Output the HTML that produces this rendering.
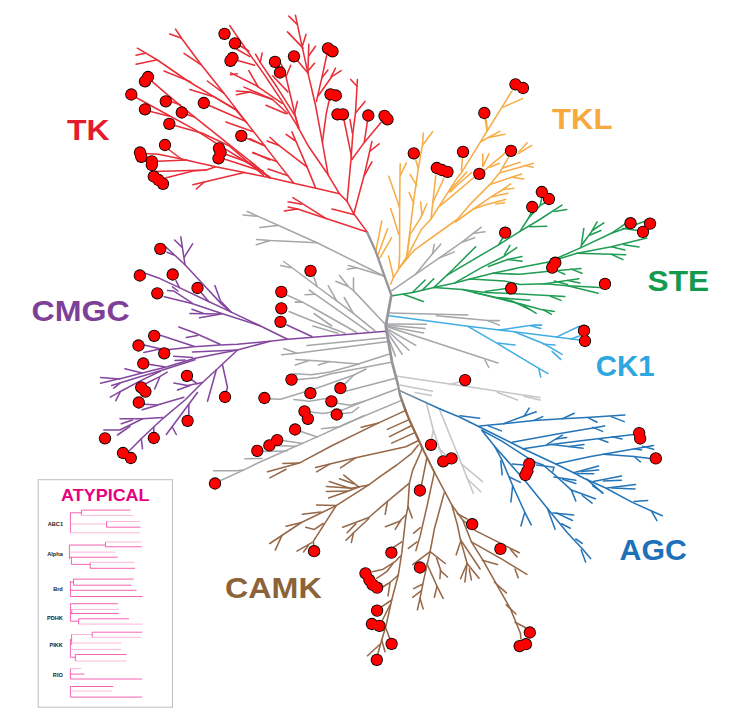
<!DOCTYPE html>
<html><head><meta charset="utf-8"><title>Kinome tree</title>
<style>html,body{margin:0;padding:0;background:#fff;}svg{display:block;}text{font-family:"Liberation Sans",sans-serif;font-weight:bold;}</style>
</head><body>
<svg width="735" height="720" viewBox="0 0 735 720">
<rect width="735" height="720" fill="#fff"/>
<g fill="none" stroke="#C4C6C8" stroke-width="1.55" stroke-linecap="round" stroke-linejoin="round">
<polyline points="397.5,376.3 465,386.3 540,397.5"/>
<polyline points="450,384.5 458.8,382"/>
<polyline points="523.8,396.3 540,400"/>
<polyline points="497.5,392.5 517.5,400"/>
<polyline points="400,385 432.5,391.3"/>
<polyline points="415,392.5 431.3,395.5"/>
<polyline points="426.7,404.2 433.3,430 441.7,455"/>
<polyline points="433.3,430 431.7,438.3"/>
<polyline points="438.3,447.5 446.7,455.8"/>
<polyline points="440,410.8 460,460 473.3,493.3"/>
<polyline points="480.8,491.7 466.7,478.3"/>
<polyline points="482.5,481.7 461.7,464.2"/>
</g>
<g fill="none" stroke="#A5A7AA" stroke-width="1.55" stroke-linecap="round" stroke-linejoin="round">
<polyline points="247.3,211.5 277.5,225 317.1,242.7 383.8,276"/>
<polyline points="243.1,215 256.7,216.3"/>
<polyline points="259.8,227.5 277.5,225.4"/>
<polyline points="256.7,239.6 270.2,240.6 317.1,242.7"/>
<polyline points="256.3,244.8 270.2,240.6"/>
<polyline points="348.3,265.6 356.7,267.7 383.8,276"/>
<polyline points="347.3,269.2 356.7,267.7"/>
<polyline points="283.8,261.5 317.1,286.5 336.7,300.8 353.3,313.3 375,330.8"/>
<polyline points="280.6,265.6 291,267.7"/>
<polyline points="313.9,277 317.1,286.5"/>
<polyline points="335.8,281.3 348.3,286.5 353.5,290.6 385,324"/>
<polyline points="339.6,275.4 348.3,286.5"/>
<polyline points="353.5,278.1 353.5,290.6"/>
<polyline points="328.3,285.8 336.7,300.8"/>
<polyline points="309.2,290 315,294.2 340,311.7 368.3,331.7"/>
<polyline points="305,294.7 315,294.2"/>
<polyline points="344.2,297.5 353.3,313.3"/>
<polyline points="286.3,294.8 302.5,302.1 320,311.7 356.7,332.5"/>
<polyline points="295.2,302.1 302.5,302.1"/>
<polyline points="289,311.5 310,320 345,333.3"/>
<polyline points="314,313.5 331.7,326"/>
<polyline points="312.9,326 327.5,330.2 337.9,333.3"/>
<polyline points="391.5,290.8 415.4,274.4 439.4,257.9 461.9,242.2 481.3,227.2"/>
<polyline points="415.4,274.4 432.7,253.4 434.2,244.4"/>
<polyline points="432.7,253.4 440.9,244.1"/>
<polyline points="454.4,251.9 439.4,257.9"/>
<polyline points="474.6,237.7 461.9,242.2"/>
<polyline points="485.1,231.7 473.8,233.2"/>
<polyline points="389.3,312.9 467.9,314.9"/>
<polyline points="436.4,315.7 487.9,320.6 499.3,325.1"/>
<polyline points="487.9,320.6 499.3,320.6"/>
<polyline points="385.7,324 426.4,324.3"/>
<polyline points="385.7,325 425,328.6"/>
<polyline points="385.7,326 423.6,332.9"/>
<polyline points="387.9,327.1 497.9,362.9"/>
<polyline points="485,360 488.8,367.5"/>
<polyline points="385.7,328 415.8,345.4"/>
<polyline points="385.7,329 409,350.3"/>
<polyline points="385.7,330 402.2,354.2"/>
<polyline points="385.7,331 395.4,356.1"/>
<polyline points="307.1,345.6 385.6,337.8"/>
<polyline points="281.6,354.7 296.9,353.3 386.7,341.7"/>
<polyline points="283.7,348.6 296.9,353.3"/>
<polyline points="295.9,359.4 327.6,361.4 358.2,364.1 388.8,354.3"/>
<polyline points="295.3,364.9 309.2,360.4"/>
<polyline points="318.4,364.9 329.6,361.4"/>
<polyline points="293,380 317.3,377.8 330,374 391.1,362.2"/>
<polyline points="293.9,373.7 311.2,374.7 330,372 358.9,363.9"/>
<polyline points="266,398.8 280.6,399.2 317.3,388 353.9,375 366,369"/>
<polyline points="345,383.9 353.9,375"/>
<polyline points="346.7,391.1 395.6,378.3"/>
<polyline points="293.9,399.6 309.2,401.2 327.6,398.2"/>
<polyline points="333,402.5 350,405.3 364.3,401.2 396.9,389"/>
<polyline points="306,411.6 323.5,413.5 343.9,409.4 364.3,401.2"/>
<polyline points="338,414 352,412.5 358.5,407.4"/>
<polyline points="321.4,428.8 339.8,426.7 364.3,415.5"/>
<polyline points="215,483 243.5,470.1 260,462 319.4,435.9 348,422.7 401,400.6"/>
<polyline points="213.6,470.7 236.7,470.7 243.5,470.1"/>
<polyline points="244.9,458.7 262,458.5"/>
<polyline points="258,451.4 287,451"/>
<polyline points="271,445.5 296,446.2"/>
<polyline points="279,440 303,443.5"/>
<polyline points="296.5,430 317.3,436.9"/>
</g>
<g fill="none" stroke="#84479E" stroke-width="1.55" stroke-linecap="round" stroke-linejoin="round">
<polyline points="385.8,331.3 303.8,338 287.5,339.3 270,341.3 237.5,344.3 220,345 193.8,346.8 170,349.5 166,352"/>
<polyline points="287.5,339.3 260,325.8 230.8,311.9 221.1,303.6 201.7,282.8 185,264.7 180.8,236.9"/>
<polyline points="174.6,240 182.2,247.4"/>
<polyline points="192.6,243.9 184.3,257.1"/>
<polyline points="165.6,246.7 185,264.7"/>
<polyline points="166.9,252.2 173.9,255"/>
<polyline points="214.9,285.6 220.4,300.8 230.8,311.9"/>
<polyline points="201.7,293.2 208.6,301.5"/>
<polyline points="230.8,311.9 208.6,301.5 179.4,287.6 160,278.6 143,272.5"/>
<polyline points="176,280.7 179.4,287.6"/>
<polyline points="167.6,290.4 173.9,291.1 191.9,302.9"/>
<polyline points="172.5,286.9 178,291"/>
<polyline points="164.2,296.7 191.9,303.6 221.1,313.3 260,325.8"/>
<polyline points="189.9,313.6 221.1,314"/>
<polyline points="191.9,309.2 203.1,313.3"/>
<polyline points="199.6,317.8 221.1,314"/>
<polyline points="286.9,325 311.9,336.5"/>
<polyline points="178.8,327 193.8,332.5 220,344.3"/>
<polyline points="186.3,337.5 197.5,335.5"/>
<polyline points="158,334.5 193.8,346.3"/>
<polyline points="142,344.5 160,348.8 170,349.5"/>
<polyline points="143.8,352.5 160,349"/>
<polyline points="270,341.3 237.5,350 195,358.3 167.2,366.7 142.2,372.9 119.3,378.9 100.6,377.5"/>
<polyline points="195,359.7 183.9,363.2 160.3,370.8 136.7,377.8 111.7,385.4"/>
<polyline points="192.5,352 237.5,350"/>
<polyline points="173.8,356.3 192.5,357.5"/>
<polyline points="175,360.5 185,360"/>
<polyline points="149.9,364.6 164.4,366.7"/>
<polyline points="100.6,383.3 120,378.5"/>
<polyline points="110.3,397.2 120,391.7 140.8,380.6 160.3,371.2"/>
<polyline points="113.8,388.2 120,383.2"/>
<polyline points="124.9,368.8 142.2,372.9"/>
<polyline points="115.8,400.7 120,392.4"/>
<polyline points="146.4,383.3 158.9,377.1 167.2,372.2"/>
<polyline points="154.7,388.9 159.6,377.5"/>
<polyline points="237.5,350 217.5,368.8 202.5,382.5 185,400 162.5,418.8 142.5,437.5 128.8,451.3"/>
<polyline points="222.5,365 227.5,387.5 226,392"/>
<polyline points="216.3,370 207.5,401.3"/>
<polyline points="190,378.5 197.5,383.8"/>
<polyline points="173.8,383 187.5,385.5 202.5,382.5"/>
<polyline points="177.5,390 190,385.5"/>
<polyline points="144.3,404.2 157.5,404.9 183.9,397.2"/>
<polyline points="142.2,409.7 157.5,405.3"/>
<polyline points="188.8,405 188.8,416"/>
<polyline points="166.3,434.5 197.5,392.5"/>
<polyline points="172.5,427.5 176.3,434.5"/>
<polyline points="120,418.8 142.5,418.8 162.5,417.5"/>
<polyline points="121.3,423.8 132.5,420"/>
<polyline points="103.8,430 120,430 142.5,418.8"/>
<polyline points="117.5,435 130,426.3"/>
<polyline points="153.8,427.5 153.8,433"/>
<polyline points="141.3,438.8 142.5,448.8"/>
</g>
<g fill="none" stroke="#956848" stroke-width="1.55" stroke-linecap="round" stroke-linejoin="round">
<polyline stroke-width="2.3" points="405.6,410.6 409.4,420 422.4,448.3"/>
<polyline stroke-width="1.9" points="422.4,448.3 434.4,472.2"/>
<polyline points="434.4,472.2 451.8,504.9 462.7,520 471.4,541.8 482.3,559.2 510.6,609.2 520.4,633.2 521,639"/>
<polyline points="497.5,564.6 482.3,560.3"/>
<polyline points="506.3,592.9 494.3,582"/>
<polyline points="516,614 506.3,604.9"/>
<polyline points="515,622.3 525.8,627.8"/>
<polyline points="404.8,410.9 378.6,422.9 331.8,445.7 299.2,463.1 267.6,471.8"/>
<polyline points="361.2,427.2 378.6,422.9"/>
<polyline points="282.9,463.6 299.2,463.1"/>
<polyline points="269.8,477.9 286.1,469.2"/>
<polyline points="387.3,429.4 409.1,419.6"/>
<polyline points="389.5,436.6 411.3,425.7"/>
<polyline points="391.7,443.1 413.7,433.1"/>
<polyline points="418.1,440.7 405.8,446.8 355.8,457.7 315.5,467.5"/>
<polyline points="316.6,471.8 329.7,464.2"/>
<polyline points="340.5,467.9 355.8,457.7"/>
<polyline points="418.3,445 411.7,453.3 396.7,465 380,476.7 368.8,484.9 336.2,505.6 301.4,522.5 269.8,543.5"/>
<polyline points="343.8,475.1 359,487.1"/>
<polyline points="339.5,478.8 353.6,483.8"/>
<polyline points="329.2,481.6 351.4,488.8"/>
<polyline points="326.4,486.6 351.4,488.2 368.8,484.9"/>
<polyline points="326.4,491.4 347.1,491"/>
<polyline points="328.6,498 347.1,491.4 359,487.1"/>
<polyline points="316.6,505.1 336.2,505.6"/>
<polyline points="302.4,514.3 320.9,512.1"/>
<polyline points="286.1,526.3 301.4,522.5"/>
<polyline points="275.2,550.1 281.8,535.9"/>
<polyline points="336.2,505.6 313.3,541.4 313.8,546"/>
<polyline points="305.7,527.2 314.4,529.4 323.1,523.5"/>
<polyline points="297,551.2 312.2,542.4"/>
<polyline points="303.5,552 308.3,545.5"/>
<polyline points="422.4,448.3 412.7,470.1 409.4,483.1 407.9,507.1 405.8,517.4 401.8,552.7 398.3,575 391.7,600 385.8,626.7 381.7,640 377.5,655"/>
<polyline points="409.4,483.1 386.3,502.3 368.8,517.5 342.7,527.2"/>
<polyline points="387.3,502.3 385.2,514.3"/>
<polyline points="347.1,532.7 355.8,523.9"/>
<polyline points="346,540.3 353.6,532.7 368.8,518.5"/>
<polyline points="351.4,542.4 353.6,532.7"/>
<polyline points="407.9,506 412.2,518"/>
<polyline points="385.4,526.7 399.6,521.2 406.1,514.7"/>
<polyline points="395.2,529.4 400.7,520.5"/>
<polyline points="401.8,541.9 392.5,548"/>
<polyline points="426.8,458.1 421.4,485.3"/>
<polyline points="434.4,472.2 426.8,507.1 420.3,535.4 415.9,550.6"/>
<polyline points="413.7,533.2 420.3,527.7"/>
<polyline points="408.3,548.4 417,541.9"/>
<polyline points="444.2,492.9 434.4,528.8 430.1,551.6 423.5,580.9 420,598.3 417.4,609.8"/>
<polyline points="430.1,551.6 412.7,564.6"/>
<polyline points="430.1,551.6 445.3,563.5"/>
<polyline points="436.6,558.1 440.9,571.1 447.5,577"/>
<polyline points="439.9,578.8 440.5,570.1"/>
<polyline points="426.8,563.5 436.6,585.3 443.1,598.4"/>
<polyline points="434.4,597.3 437,586.4"/>
<polyline points="413.7,588.6 422.4,584.2"/>
<polyline points="412.7,597.3 421.4,590.7"/>
<polyline points="420,598.3 423.2,608.9"/>
<polyline points="451.8,504.9 457.3,524.5 460.5,539.6 467.1,563.5 464.9,582"/>
<polyline points="460.5,541.8 456.2,554.8"/>
<polyline points="467.1,563.5 460.5,578.8"/>
<polyline points="467.1,563.5 479,578.3"/>
<polyline points="469.2,569 471.4,579.9"/>
<polyline points="460.5,539.6 480.1,569"/>
<polyline points="457.3,513.6 467.1,519"/>
<polyline points="462.7,520 475.8,530.9 493.2,539.6 519.3,552.7"/>
<polyline points="517.1,557 510.6,549.4"/>
<polyline points="471.4,541.8 501.9,559.2 526.9,574.4"/>
<polyline points="518.2,577.7 515,569"/>
<polyline points="372.5,571.7 383.3,569.2 395,561.7 400.5,556"/>
<polyline points="376.7,578.3 386.7,571.7 393,563.5"/>
<polyline points="381.7,587.5 390,582.5 398.3,575"/>
<polyline points="388,595.8 390,583.3"/>
<polyline points="381.7,606.7 391.7,600"/>
<polyline points="382.5,620 390,605"/>
<polyline points="385.8,628.3 389.7,638.3"/>
<polyline points="381.7,640 385,651.7"/>
<polyline points="367.5,655.8 380,644.2"/>
</g>
<g fill="none" stroke="#2475B8" stroke-width="1.55" stroke-linecap="round" stroke-linejoin="round">
<polyline points="440,409 460,417.2 479.6,427"/>
<polyline points="460,415.7 479.6,418.3"/>
<polyline points="479.6,425.9 503.5,423.7 534,420.5 562.3,418.7 590.6,417.2 624.9,415"/>
<polyline points="503.5,423.7 524.2,416.1 536.2,411.8"/>
<polyline points="529.2,408.1 524.2,416.1"/>
<polyline points="542.7,416.6 534,420.5"/>
<polyline points="574.3,413.3 562.3,418.7"/>
<polyline points="597.1,422.2 588.4,417.9"/>
<polyline points="624.2,421.6 611.2,416.6"/>
<polyline points="488.3,425.9 501.4,430.9"/>
<polyline points="479.6,427 512.2,443.3 523.1,448.8 555.8,464 573.6,472.7 583.9,478.2 605.7,488 631.8,502.1 662.3,515.8"/>
<polyline points="656.9,520.6 651.4,510.8"/>
<polyline points="647.7,500.6 634,501.4"/>
<polyline points="512.2,442.2 560.1,433.5 604.6,425.9"/>
<polyline points="602.6,431.4 592.8,427.4"/>
<polyline points="523.1,448.8 551.4,444.4 583,440.5 634,434.6"/>
<polyline points="562.3,435.1 547.1,444.4"/>
<polyline points="566.7,437.5 556,439"/>
<polyline points="583,448.3 551.4,444.4"/>
<polyline points="584,444.5 569,446.5"/>
<polyline points="607.9,442.2 599.2,439"/>
<polyline points="622,439 612.2,436.8"/>
<polyline points="555.8,464 590.6,456.4 603.5,454.2 653.6,445.5"/>
<polyline points="603.5,454.2 634,456.4 650.3,458.6"/>
<polyline points="653.6,449.2 642.7,446.2"/>
<polyline points="640.5,461.8 635.1,457.5"/>
<polyline points="641.6,449.9 634,448.8"/>
<polyline points="573.6,472.7 598.6,466.1"/>
<polyline points="598.7,470.1 581.8,471.6"/>
<polyline points="593.7,473.8 577.4,473.4"/>
<polyline points="586.7,479.2 603,493.3"/>
<polyline points="602.4,492.3 592.7,485.8"/>
<polyline points="593.2,481.4 621.5,475.9"/>
<polyline points="621.4,480.3 603.5,481"/>
<polyline points="607.3,487.9 635.6,484.6"/>
<polyline points="635.1,489 612.2,488"/>
<polyline points="481.8,430.3 501.8,441.1 534,461.8 543.1,465 553.6,473.8 571.4,490.1 595.4,498.8"/>
<polyline points="512.2,464 523.1,465.1"/>
<polyline points="536.6,465 554,467.2 552.9,471.1"/>
<polyline points="554,477 575.8,480.3"/>
<polyline points="575.8,483.5 562.7,479.2"/>
<polyline points="571.4,490.1 575.8,501"/>
<polyline points="592.1,503.1 582.3,495.5"/>
<polyline points="481.8,430.3 494.8,446.6 501.8,459.6 512.7,485.7 524.6,511.8 531.2,524.9"/>
<polyline points="500.7,460.7 502.2,474.8"/>
<polyline points="509.4,477 520.3,482.4"/>
<polyline points="512.7,485.7 510.9,502"/>
<polyline points="524.6,512.9 520.9,526"/>
<polyline points="494.8,446.6 525.7,481.4 547.5,508.6 567.1,532.5 582.3,548.8 590.6,558.6"/>
<polyline points="547.5,508.6 555.1,529.2"/>
<polyline points="552.9,512.9 573.6,515.1"/>
<polyline points="572.5,520.5 556.2,512.9"/>
<polyline points="570.3,528.2 561.6,523.8"/>
<polyline points="582.3,543.4 575.8,539"/>
<polyline points="585.6,561.9 581.2,549.9"/>
</g>
<g fill="none" stroke="#42ADE2" stroke-width="1.55" stroke-linecap="round" stroke-linejoin="round">
<polyline points="389.3,315.7 467.9,326.3 499.3,330 556.4,337.1 579.3,340"/>
<polyline points="499.3,330 533.6,325.1 541.6,325.1"/>
<polyline points="540.7,328.6 530.7,325.7"/>
<polyline points="556.4,337.1 579.3,326.3"/>
<polyline points="571,339 579.5,336"/>
<polyline points="515,332 545,344.3 562.1,354.3"/>
<polyline points="555,345.1 543.6,344.3"/>
<polyline points="560.7,359.4 552.1,351.4"/>
<polyline points="467.9,326.3 496.4,342.9 539.3,368.6 547.9,373.7"/>
<polyline points="515,345.1 497.9,342.9"/>
<polyline points="540.7,377.1 538.7,368.6"/>
</g>
<g fill="none" stroke="#209C54" stroke-width="1.55" stroke-linecap="round" stroke-linejoin="round">
<polyline points="392.5,295.8 412.9,292.4 433.8,287.6 454.8,282.9 470,279"/>
<polyline points="403.3,294.3 423.3,301.5"/>
<polyline points="412.9,292 425.2,280"/>
<polyline points="422.4,290.1 433.8,278.7"/>
<polyline points="433.8,287.6 452.9,269.5 475.7,246.7"/>
<polyline points="447.1,275.2 498.6,244.8 520,231.4 539,220 561.9,205.1"/>
<polyline points="498.6,244.8 503,237.5"/>
<polyline points="566.7,209.5 554.3,211.4"/>
<polyline points="546.7,226.3 529.5,226.7"/>
<polyline points="520,231.4 528.6,218 532.8,209"/>
<polyline points="528.6,218 540,205.7 542.5,195"/>
<polyline points="540,205.7 546,202"/>
<polyline points="454.8,282.9 481.4,267.6 504.3,256.2 516.7,247.6"/>
<polyline points="510,245.3 504.3,255.2"/>
<polyline points="522,256.5 507.8,259.5 488.4,266.6"/>
<polyline points="522,261.3 507.8,259.4"/>
<polyline points="470,279 492.9,273.3 520,267.6 548.6,261.9 581,247.6 611.4,233.3 626.7,222.9"/>
<polyline points="583.8,228.6 581,247.6"/>
<polyline points="597.1,221.9 590.5,233.3 581.9,244.8"/>
<polyline points="603.8,222.9 592.4,230.5"/>
<polyline points="601,230.5 589.5,235.2"/>
<polyline points="611.4,233.3 645.7,221"/>
<polyline points="622.9,228.6 638,230.5"/>
<polyline points="548.6,261.9 577.1,253.3 611.4,246.7 646.7,238.1"/>
<polyline points="611.4,246.7 624.8,250.1"/>
<polyline points="623.8,244.8 639,247"/>
<polyline points="577.1,253.3 611.4,254.3 622.9,259.6"/>
<polyline points="625.7,254.7 611.4,254.3"/>
<polyline points="492.9,273.3 520,274.3 546.7,271.4 581,268.6"/>
<polyline points="564.8,274.3 558.1,271.4"/>
<polyline points="581.9,273.3 571.4,269.1"/>
<polyline points="470,279 504.3,281 520,284.4 544.8,283.8 567.6,285.7 600,287.6"/>
<polyline points="544.8,283.8 579,278.7"/>
<polyline points="567.6,284.4 554.3,281"/>
<polyline points="580,282.9 567.6,280.6"/>
<polyline points="598.1,293.3 582.9,289.5 567.6,285.7"/>
<polyline points="433.8,287.6 462.4,289.5 485.2,292.4 520,293.9 564.8,296.6"/>
<polyline points="485.2,291.4 506.2,288.6"/>
<polyline points="561,300.4 550.5,296.2"/>
<polyline points="529.9,300.2 497.2,297.6"/>
<polyline points="462.4,289.5 496.7,298.1 520,303.8 541,309.5 554.3,311.4"/>
<polyline points="473.8,292.4 511.9,301 530,309.5"/>
<polyline points="551.4,314.3 542.9,309.5"/>
<polyline points="536.2,313.3 523.8,305.7"/>
</g>
<g fill="none" stroke="#F7AD46" stroke-width="1.55" stroke-linecap="round" stroke-linejoin="round">
<polyline points="381.8,221 376,250.1"/>
<polyline points="387.6,228.8 377.9,255"/>
<polyline points="391.5,237.9 379.9,257.9"/>
<polyline points="388.6,256 393.5,277.4"/>
<polyline points="390.6,284.2 393.5,277.4 400,267"/>
<polyline points="400.2,163.8 399.6,207.6 399.6,256.8 398.6,269"/>
<polyline points="406.3,162.9 400.6,175.2"/>
<polyline points="388.8,176.2 399.6,207.6"/>
<polyline points="390.7,208.6 398.7,234.3"/>
<polyline points="415.8,160 418.3,168.6"/>
<polyline points="423.4,133 422.5,144.8 418.3,168.6 413,205.7 407.2,253.3 406.3,257.5"/>
<polyline points="432.6,131.8 423,144.8"/>
<polyline points="410.1,174.3 416.8,185.7"/>
<polyline points="409.1,192.4 413.9,203.8"/>
<polyline points="420.6,201.9 421.9,215.2"/>
<polyline points="426.9,203.8 420.6,218.1 410.1,234.3 407.2,253.3"/>
<polyline points="400,267 408,254.9 421.4,229.5 431,219 457.7,177.1 461.4,172.9 479.5,143.3 487.1,131 501.4,108.1 511.9,91"/>
<polyline points="486.3,120 487.2,129.5"/>
<polyline points="522.4,98.6 503.3,107.1"/>
<polyline points="485.2,119.1 487.1,131"/>
<polyline points="500,131.1 488.9,137.2 480.6,141.7"/>
<polyline points="505,134.2 490,137.2"/>
<polyline points="462.4,158.6 461.4,171"/>
<polyline points="435.8,175.2 431,219"/>
<polyline points="443.8,178.5 433.6,200.8 432.8,203"/>
<polyline points="467.1,171.7 449.2,191.1"/>
<polyline points="471.5,172.6 458,184.5 450.1,192.1"/>
<polyline points="482.8,153.9 482.8,166.7"/>
<polyline points="488.9,153.9 483.3,165.6"/>
<polyline points="505.6,152.2 502.2,155.6 485.6,169.4 473.9,177.5 440.4,205.7"/>
<polyline points="499.4,163.3 490,167.2"/>
<polyline points="527.2,142.8 518.9,151.7"/>
<polyline points="531.7,145.3 517.8,153.9"/>
<polyline points="508.9,156.7 500,172.2 490,184.4 470,204.4 457.7,219 414,250.4 400,267"/>
<polyline points="520,162.2 506.7,166.7 503,168"/>
<polyline points="533.3,163.3 520,167.2 500,172.8"/>
<polyline points="533.3,167.2 524.4,165.6"/>
<polyline points="521.7,173.9 490,184.4"/>
<polyline points="523.9,178.9 512.2,177.2"/>
<polyline points="510.6,183.9 502.2,190 492.2,196.1 473.5,209 455.5,222"/>
<polyline points="513.9,188.3 503.3,189.4"/>
<polyline points="507.8,193.3 492.2,196.7"/>
<polyline points="505.6,199.4 486.7,204.4 473.5,209"/>
<polyline points="504.4,202.8 495.6,203.9"/>
</g>
<g fill="none" stroke="#E92E38" stroke-width="1.55" stroke-linecap="round" stroke-linejoin="round">
<polyline points="367.1,231.9 353.8,213.8 347.1,201.4 339.5,193.8 328.1,174.8 308.8,146.8 297.4,126.2 282.1,101.4 263.1,72.9 244,46.2 229.8,25.6"/>
<polyline points="339.5,193.8 314.8,188.1 293.8,183.3 269,177.6 244.3,172.4 215.7,166.7 181.4,159 170,150.5 166.5,147.5"/>
<polyline points="367.1,231.9 326.2,218.6 292.9,197.6"/>
<polyline points="288.1,201.8 301.4,204.3"/>
<polyline points="284.3,211 297.6,209 326.2,218.6"/>
<polyline points="288.1,207 297.6,209"/>
<polyline points="331.9,209 353.8,214.4"/>
<polyline points="371.9,141.4 370,150 364.3,174.8 353.8,213.8"/>
<polyline points="379.1,143.9 370.4,151"/>
<polyline points="371.9,161.8 364.3,175.7"/>
<polyline points="357.4,79.5 355.5,112.9 352.9,132.9 351,159.5 347.1,201.4"/>
<polyline points="350.7,79.5 357,86.2"/>
<polyline points="365,101.4 355.5,112.9"/>
<polyline points="350,119.5 352.3,132.9"/>
<polyline points="344,120 351,153.8 351.9,159.5"/>
<polyline points="367.6,120 364.3,142.4"/>
<polyline points="381.4,122 364.3,142.4 351.9,159.5"/>
<polyline points="295.5,15.3 301.2,42.4 307.9,72.9 315.5,105.2 322.4,142.4 328.1,174.8"/>
<polyline points="288.8,16.1 297,24.3"/>
<polyline points="287.5,31.9 303.1,48.1"/>
<polyline points="306,34.4 302.1,47.1"/>
<polyline points="296.5,59.5 307.9,72.9"/>
<polyline points="308.8,44.3 307.9,72.9"/>
<polyline points="315.5,46.2 308.8,55.7"/>
<polyline points="314.5,63.3 307.9,71"/>
<polyline points="327,54 322.1,76.7 316.4,101.4"/>
<polyline points="341.2,70.6 331.7,76.7 318.3,95.7"/>
<polyline points="335.5,68.1 330.7,77.6"/>
<polyline points="327.9,70 322.1,77.6"/>
<polyline points="329.5,99 326.2,113.8 322.4,142.4"/>
<polyline points="255.5,54.2 260.2,62.4 276.4,86.2 295.5,116.7 299,128"/>
<polyline points="262.2,53 260.2,62.4"/>
<polyline points="230.7,72.9 255.5,85.2 282.1,103.3"/>
<polyline points="248.8,70.6 258.3,87.1"/>
<polyline points="230.4,74.8 237.4,73.8"/>
<polyline points="236.4,94.8 249.8,91.9 272.6,99.5 287.9,113.8"/>
<polyline points="244,87.1 272.6,99.5"/>
<polyline points="236.4,91 249.8,91.9"/>
<polyline points="266,105.2 286,113.8"/>
<polyline points="238,44.5 248.8,51"/>
<polyline points="236,60 254.5,65.2"/>
<polyline points="236.4,49 249.8,56.7"/>
<polyline points="281.2,64 286,76.7 295.5,116.7 298.3,128.1"/>
<polyline points="290.7,65.2 286,76.7"/>
<polyline points="272.6,75.7 287.9,91.9"/>
<polyline points="297.4,101.4 294.5,113.8"/>
<polyline points="291.9,131.9 307.1,167.1 315.7,188.1"/>
<polyline points="286.2,134.4 294.8,140.5"/>
<polyline points="270,137.2 278.6,145.2 307.1,167.1"/>
<polyline points="267.1,140.9 278.6,145.2"/>
<polyline points="175.5,29.1 182.1,39 201.2,64.8 224,93.3 246.9,122.9 276.7,161.4 293.8,183.3"/>
<polyline points="169.8,33.9 181.2,38.1"/>
<polyline points="184,53.3 201.2,64.8"/>
<polyline points="207.3,81 224,93.3"/>
<polyline points="252.9,152.9 276.7,161.4"/>
<polyline points="250,138.6 263.3,145.2"/>
<polyline points="268.1,169 288.1,175.7"/>
<polyline points="226,121.9 252.6,131.4"/>
<polyline points="243,136.8 265,145.7"/>
<polyline points="137.4,48.2 157.4,60 187.9,81 216.4,98.1 235.5,109.5 246.9,122.9"/>
<polyline points="136,55.2 145,53.3"/>
<polyline points="136,64.2 156.4,60"/>
<polyline points="164,71 190.7,81.9"/>
<polyline points="189.8,89.5 214.5,97.1 235.5,109.5"/>
<polyline points="205,103.5 209.8,105.7 245,121"/>
<polyline points="150,79 152.8,82.2 180.6,105.8 194.4,116.9 227,142.8 253.8,164 270,178.1"/>
<polyline points="171,101.5 180.6,105"/>
<polyline points="186,114.3 194.4,116.9"/>
<polyline points="131.1,94.7 136.1,97.5 166.7,114.2 194.4,129.4 225,148.9 248.1,163 270,177.1"/>
<polyline points="145,109.1 150.7,111.4 169.4,116.2"/>
<polyline points="169.4,123.8 175.5,125.7 202.4,133.3 229,145.7 263.3,175.2"/>
<polyline points="221,152.4 244.3,161 263.3,171.4"/>
<polyline points="221,158.1 236.7,162.9 259.5,170.5"/>
<polyline points="252.9,152.4 270,160"/>
<polyline points="141,153.3 158.6,154.3 181.4,159"/>
<polyline points="152,161.5 187.1,160"/>
<polyline points="153.8,171.4 206.2,169.9 215.7,166.7"/>
<polyline points="163.3,178.5 192.9,171 206.2,169.9"/>
<polyline points="192.9,184.8 204.3,181.9 244.3,172.4"/>
<polyline points="196.3,189 204.3,181.9"/>
<polyline points="250,161.4 269,177.6"/>
</g>
<rect x="38.2" y="479.7" width="134.2" height="227.5" fill="#fff" stroke="#BDBDBD" stroke-width="1"/>
<text x="61" y="500.5" font-size="17" fill="#E6007E" textLength="88.6" lengthAdjust="spacingAndGlyphs">ATYPICAL</text>
<g font-size="5.6" fill="#222" text-anchor="end">
<text x="63" y="526.2">ABC1</text>
<text x="62.8" y="555.6">Alpha</text>
<text x="62.8" y="591">Brd</text>
<text x="62.8" y="620.2">PDHK</text>
<text x="62.8" y="646.8">PIKK</text>
<text x="62.8" y="676.6">RIO</text>
</g>
<g fill="none" stroke="#F43BA0" stroke-width="0.8">
<path d="M70.4,512.8V532.8 M70.4,512.8H81.4 M81.4,510.1V515.4 M81.4,510.1H130.6 M106.5,521.5V527.2 M106.5,527.2H140.6"/>
<path d="M69.4,545V559 M69.4,545H105.5 M105.5,542V546.8H141.8 M69.4,557.2H117.8 M71.4,557.2V564.4H90.2 M90.2,562.3V568.3H135.1"/>
<path d="M70.4,581V596.5H142.7 M70.4,582H73.5 M73.5,579.1V585.2 M73.5,579.1H133.7 M73.5,585.2H131.4 M70.4,590.3H136.5"/>
<path d="M70.4,603.7V621.2H78.6 M70.4,603.7H117.8 M71.8,609.4V613.5 M70.4,613.5H118.8 M78.6,618.8V624.1 M78.6,618.8H129"/>
<path d="M70.4,639V657.3H75.3 M71.6,634.5V645 M92.2,632.2V637.3 M92.2,632.2H142.2 M75.3,654.5V661 M75.3,654.5H126.5"/>
<path d="M70.4,668.6V679H142.2 M70.4,674.1H84.5"/>
<path d="M70.4,686.5V697.1H142.2 M70.4,686.5H113.1"/>
</g>
<g fill="none" stroke="#FBA6D2" stroke-width="0.8">
<path d="M81.4,515.4H132.7 M70.4,524H106.5 M106.5,521.5H140.2 M70.4,532.8H140.2"/>
<path d="M105.5,542H141.2 M69.4,552.1H115.3 M90.2,562.3H134.5"/>
<path d="M71.8,609.4H119.2 M78.6,624.1H142.7"/>
<path d="M71.6,634.5H92.2 M92.2,637.3H141.2 M70.4,643H121.4 M70.4,649.4H120.8 M75.3,661H126.5"/>
<path d="M70.4,668.6H81.4 M70.4,691H112.2"/>
</g>
<defs><linearGradient id="tg" gradientUnits="userSpaceOnUse" x1="397" y1="380" x2="406" y2="412"><stop offset="0" stop-color="#939598"/><stop offset="0.35" stop-color="#939598"/><stop offset="1" stop-color="#8E6140"/></linearGradient>
<linearGradient id="bg" gradientUnits="userSpaceOnUse" x1="398" y1="389" x2="440" y2="409"><stop offset="0" stop-color="#939598"/><stop offset="1" stop-color="#1F72B8"/></linearGradient></defs>
<polyline fill="none" stroke="#939598" stroke-width="2.3" stroke-linejoin="round" stroke-linecap="round" points="367.2,232.6 375.6,251.1 391.3,295.2"/>
<polyline fill="none" stroke="#939598" stroke-width="2.7" stroke-linejoin="miter" stroke-linecap="round" points="391.3,295.2 385.7,326 387.2,335 392.2,362.8 397.8,383.9"/>
<polyline fill="none" stroke="url(#tg)" stroke-width="2.4" stroke-linejoin="round" stroke-linecap="round" points="397.8,383.9 400,395 405.6,410.6"/>
<polyline fill="none" stroke="url(#bg)" stroke-width="1.5" stroke-linecap="round" points="399.5,390.5 440,409"/>

<g fill="#000">
<circle cx="224.5" cy="33.8" r="6.15"/>
<circle cx="235" cy="43.3" r="6.15"/>
<circle cx="232.5" cy="58" r="6.15"/>
<circle cx="230.5" cy="60.8" r="6.15"/>
<circle cx="275" cy="61.8" r="6.15"/>
<circle cx="280" cy="72.5" r="6.15"/>
<circle cx="294" cy="56.3" r="6.15"/>
<circle cx="328" cy="48.3" r="6.15"/>
<circle cx="332.5" cy="51.3" r="6.15"/>
<circle cx="330.5" cy="94.3" r="6.15"/>
<circle cx="335.8" cy="95.5" r="6.15"/>
<circle cx="337.5" cy="114.3" r="6.15"/>
<circle cx="343" cy="114.3" r="6.15"/>
<circle cx="368.3" cy="115.5" r="6.15"/>
<circle cx="384.5" cy="115.8" r="6.15"/>
<circle cx="387.5" cy="119.3" r="6.15"/>
<circle cx="148" cy="77" r="6.15"/>
<circle cx="145" cy="81.3" r="6.15"/>
<circle cx="131.3" cy="94.5" r="6.15"/>
<circle cx="165.8" cy="101.3" r="6.15"/>
<circle cx="145" cy="109.3" r="6.15"/>
<circle cx="181.8" cy="112.5" r="6.15"/>
<circle cx="203.8" cy="103" r="6.15"/>
<circle cx="169.3" cy="123.8" r="6.15"/>
<circle cx="241.3" cy="135.8" r="6.15"/>
<circle cx="165" cy="145" r="6.15"/>
<circle cx="140" cy="152.5" r="6.15"/>
<circle cx="141.3" cy="156.8" r="6.15"/>
<circle cx="219" cy="148.3" r="6.15"/>
<circle cx="220.5" cy="152.5" r="6.15"/>
<circle cx="218.5" cy="158.3" r="6.15"/>
<circle cx="151.8" cy="161.3" r="6.15"/>
<circle cx="151.8" cy="165" r="6.15"/>
<circle cx="153.8" cy="176.5" r="6.15"/>
<circle cx="158.5" cy="180" r="6.15"/>
<circle cx="163" cy="183.8" r="6.15"/>
<circle cx="515.5" cy="84.3" r="6.15"/>
<circle cx="523" cy="88" r="6.15"/>
<circle cx="484.3" cy="113" r="6.15"/>
<circle cx="413.8" cy="153.3" r="6.15"/>
<circle cx="463" cy="151.8" r="6.15"/>
<circle cx="511" cy="150.8" r="6.15"/>
<circle cx="436.8" cy="168" r="6.15"/>
<circle cx="441.8" cy="170" r="6.15"/>
<circle cx="447.5" cy="171.8" r="6.15"/>
<circle cx="479.3" cy="173.8" r="6.15"/>
<circle cx="541.8" cy="192" r="6.15"/>
<circle cx="549" cy="199" r="6.15"/>
<circle cx="532.2" cy="207" r="6.15"/>
<circle cx="505.2" cy="232.7" r="6.15"/>
<circle cx="630.5" cy="223.2" r="6.15"/>
<circle cx="650" cy="223.6" r="6.15"/>
<circle cx="643" cy="231.9" r="6.15"/>
<circle cx="555.3" cy="262.7" r="6.15"/>
<circle cx="552.2" cy="267.6" r="6.15"/>
<circle cx="511.2" cy="288.4" r="6.15"/>
<circle cx="605" cy="283.9" r="6.15"/>
<circle cx="584" cy="330.7" r="6.15"/>
<circle cx="585" cy="341" r="6.15"/>
<circle cx="639.2" cy="433.1" r="6.15"/>
<circle cx="640.2" cy="438.5" r="6.15"/>
<circle cx="655.8" cy="458.4" r="6.15"/>
<circle cx="529.3" cy="463.8" r="6.15"/>
<circle cx="527.4" cy="471" r="6.15"/>
<circle cx="525.4" cy="475" r="6.15"/>
<circle cx="465.1" cy="380.1" r="6.15"/>
<circle cx="431" cy="444.8" r="6.15"/>
<circle cx="451.5" cy="458.4" r="6.15"/>
<circle cx="443.2" cy="461.3" r="6.15"/>
<circle cx="310.5" cy="270.8" r="6.15"/>
<circle cx="281.3" cy="291.8" r="6.15"/>
<circle cx="281.3" cy="308.3" r="6.15"/>
<circle cx="280.5" cy="321.8" r="6.15"/>
<circle cx="160.3" cy="248.8" r="6.15"/>
<circle cx="139.8" cy="275.5" r="6.15"/>
<circle cx="172.7" cy="274.5" r="6.15"/>
<circle cx="157.3" cy="293.3" r="6.15"/>
<circle cx="197.5" cy="288" r="6.15"/>
<circle cx="154.2" cy="335.8" r="6.15"/>
<circle cx="138.5" cy="345.5" r="6.15"/>
<circle cx="164.2" cy="353.3" r="6.15"/>
<circle cx="143.3" cy="363.5" r="6.15"/>
<circle cx="187" cy="375.8" r="6.15"/>
<circle cx="141.2" cy="387.3" r="6.15"/>
<circle cx="145.4" cy="391.6" r="6.15"/>
<circle cx="138.8" cy="402.5" r="6.15"/>
<circle cx="225" cy="397" r="6.15"/>
<circle cx="187.6" cy="420.8" r="6.15"/>
<circle cx="105" cy="438.3" r="6.15"/>
<circle cx="153.8" cy="438" r="6.15"/>
<circle cx="123" cy="453" r="6.15"/>
<circle cx="130.8" cy="458" r="6.15"/>
<circle cx="264.4" cy="398" r="6.15"/>
<circle cx="291.5" cy="379.6" r="6.15"/>
<circle cx="310.4" cy="393.2" r="6.15"/>
<circle cx="340.4" cy="388.2" r="6.15"/>
<circle cx="331.4" cy="401.3" r="6.15"/>
<circle cx="304.5" cy="411.3" r="6.15"/>
<circle cx="307.9" cy="418.8" r="6.15"/>
<circle cx="336.7" cy="414.5" r="6.15"/>
<circle cx="295.1" cy="429.5" r="6.15"/>
<circle cx="277.2" cy="440.1" r="6.15"/>
<circle cx="269.4" cy="445.4" r="6.15"/>
<circle cx="257.3" cy="450.8" r="6.15"/>
<circle cx="215" cy="483.5" r="6.15"/>
<circle cx="314.1" cy="551.2" r="6.15"/>
<circle cx="391.4" cy="552.7" r="6.15"/>
<circle cx="419.9" cy="567.5" r="6.15"/>
<circle cx="472.2" cy="524.2" r="6.15"/>
<circle cx="500.4" cy="548.9" r="6.15"/>
<circle cx="365.5" cy="573.3" r="6.15"/>
<circle cx="369.4" cy="580" r="6.15"/>
<circle cx="372.5" cy="584.6" r="6.15"/>
<circle cx="377.1" cy="587.7" r="6.15"/>
<circle cx="377.1" cy="610.6" r="6.15"/>
<circle cx="371.9" cy="624" r="6.15"/>
<circle cx="379.5" cy="625.9" r="6.15"/>
<circle cx="391.6" cy="643.8" r="6.15"/>
<circle cx="376.8" cy="659.8" r="6.15"/>
<circle cx="419.9" cy="490.5" r="6.15"/>
<circle cx="529.8" cy="632.5" r="6.15"/>
<circle cx="525.9" cy="644.2" r="6.15"/>
<circle cx="519.6" cy="646.1" r="6.15"/>
</g><g fill="#FF0000">
<circle cx="224.5" cy="33.8" r="5.3"/>
<circle cx="235" cy="43.3" r="5.3"/>
<circle cx="232.5" cy="58" r="5.3"/>
<circle cx="230.5" cy="60.8" r="5.3"/>
<circle cx="275" cy="61.8" r="5.3"/>
<circle cx="280" cy="72.5" r="5.3"/>
<circle cx="294" cy="56.3" r="5.3"/>
<circle cx="328" cy="48.3" r="5.3"/>
<circle cx="332.5" cy="51.3" r="5.3"/>
<circle cx="330.5" cy="94.3" r="5.3"/>
<circle cx="335.8" cy="95.5" r="5.3"/>
<circle cx="337.5" cy="114.3" r="5.3"/>
<circle cx="343" cy="114.3" r="5.3"/>
<circle cx="368.3" cy="115.5" r="5.3"/>
<circle cx="384.5" cy="115.8" r="5.3"/>
<circle cx="387.5" cy="119.3" r="5.3"/>
<circle cx="148" cy="77" r="5.3"/>
<circle cx="145" cy="81.3" r="5.3"/>
<circle cx="131.3" cy="94.5" r="5.3"/>
<circle cx="165.8" cy="101.3" r="5.3"/>
<circle cx="145" cy="109.3" r="5.3"/>
<circle cx="181.8" cy="112.5" r="5.3"/>
<circle cx="203.8" cy="103" r="5.3"/>
<circle cx="169.3" cy="123.8" r="5.3"/>
<circle cx="241.3" cy="135.8" r="5.3"/>
<circle cx="165" cy="145" r="5.3"/>
<circle cx="140" cy="152.5" r="5.3"/>
<circle cx="141.3" cy="156.8" r="5.3"/>
<circle cx="219" cy="148.3" r="5.3"/>
<circle cx="220.5" cy="152.5" r="5.3"/>
<circle cx="218.5" cy="158.3" r="5.3"/>
<circle cx="151.8" cy="161.3" r="5.3"/>
<circle cx="151.8" cy="165" r="5.3"/>
<circle cx="153.8" cy="176.5" r="5.3"/>
<circle cx="158.5" cy="180" r="5.3"/>
<circle cx="163" cy="183.8" r="5.3"/>
<circle cx="515.5" cy="84.3" r="5.3"/>
<circle cx="523" cy="88" r="5.3"/>
<circle cx="484.3" cy="113" r="5.3"/>
<circle cx="413.8" cy="153.3" r="5.3"/>
<circle cx="463" cy="151.8" r="5.3"/>
<circle cx="511" cy="150.8" r="5.3"/>
<circle cx="436.8" cy="168" r="5.3"/>
<circle cx="441.8" cy="170" r="5.3"/>
<circle cx="447.5" cy="171.8" r="5.3"/>
<circle cx="479.3" cy="173.8" r="5.3"/>
<circle cx="541.8" cy="192" r="5.3"/>
<circle cx="549" cy="199" r="5.3"/>
<circle cx="532.2" cy="207" r="5.3"/>
<circle cx="505.2" cy="232.7" r="5.3"/>
<circle cx="630.5" cy="223.2" r="5.3"/>
<circle cx="650" cy="223.6" r="5.3"/>
<circle cx="643" cy="231.9" r="5.3"/>
<circle cx="555.3" cy="262.7" r="5.3"/>
<circle cx="552.2" cy="267.6" r="5.3"/>
<circle cx="511.2" cy="288.4" r="5.3"/>
<circle cx="605" cy="283.9" r="5.3"/>
<circle cx="584" cy="330.7" r="5.3"/>
<circle cx="585" cy="341" r="5.3"/>
<circle cx="639.2" cy="433.1" r="5.3"/>
<circle cx="640.2" cy="438.5" r="5.3"/>
<circle cx="655.8" cy="458.4" r="5.3"/>
<circle cx="529.3" cy="463.8" r="5.3"/>
<circle cx="527.4" cy="471" r="5.3"/>
<circle cx="525.4" cy="475" r="5.3"/>
<circle cx="465.1" cy="380.1" r="5.3"/>
<circle cx="431" cy="444.8" r="5.3"/>
<circle cx="451.5" cy="458.4" r="5.3"/>
<circle cx="443.2" cy="461.3" r="5.3"/>
<circle cx="310.5" cy="270.8" r="5.3"/>
<circle cx="281.3" cy="291.8" r="5.3"/>
<circle cx="281.3" cy="308.3" r="5.3"/>
<circle cx="280.5" cy="321.8" r="5.3"/>
<circle cx="160.3" cy="248.8" r="5.3"/>
<circle cx="139.8" cy="275.5" r="5.3"/>
<circle cx="172.7" cy="274.5" r="5.3"/>
<circle cx="157.3" cy="293.3" r="5.3"/>
<circle cx="197.5" cy="288" r="5.3"/>
<circle cx="154.2" cy="335.8" r="5.3"/>
<circle cx="138.5" cy="345.5" r="5.3"/>
<circle cx="164.2" cy="353.3" r="5.3"/>
<circle cx="143.3" cy="363.5" r="5.3"/>
<circle cx="187" cy="375.8" r="5.3"/>
<circle cx="141.2" cy="387.3" r="5.3"/>
<circle cx="145.4" cy="391.6" r="5.3"/>
<circle cx="138.8" cy="402.5" r="5.3"/>
<circle cx="225" cy="397" r="5.3"/>
<circle cx="187.6" cy="420.8" r="5.3"/>
<circle cx="105" cy="438.3" r="5.3"/>
<circle cx="153.8" cy="438" r="5.3"/>
<circle cx="123" cy="453" r="5.3"/>
<circle cx="130.8" cy="458" r="5.3"/>
<circle cx="264.4" cy="398" r="5.3"/>
<circle cx="291.5" cy="379.6" r="5.3"/>
<circle cx="310.4" cy="393.2" r="5.3"/>
<circle cx="340.4" cy="388.2" r="5.3"/>
<circle cx="331.4" cy="401.3" r="5.3"/>
<circle cx="304.5" cy="411.3" r="5.3"/>
<circle cx="307.9" cy="418.8" r="5.3"/>
<circle cx="336.7" cy="414.5" r="5.3"/>
<circle cx="295.1" cy="429.5" r="5.3"/>
<circle cx="277.2" cy="440.1" r="5.3"/>
<circle cx="269.4" cy="445.4" r="5.3"/>
<circle cx="257.3" cy="450.8" r="5.3"/>
<circle cx="215" cy="483.5" r="5.3"/>
<circle cx="314.1" cy="551.2" r="5.3"/>
<circle cx="391.4" cy="552.7" r="5.3"/>
<circle cx="419.9" cy="567.5" r="5.3"/>
<circle cx="472.2" cy="524.2" r="5.3"/>
<circle cx="500.4" cy="548.9" r="5.3"/>
<circle cx="365.5" cy="573.3" r="5.3"/>
<circle cx="369.4" cy="580" r="5.3"/>
<circle cx="372.5" cy="584.6" r="5.3"/>
<circle cx="377.1" cy="587.7" r="5.3"/>
<circle cx="377.1" cy="610.6" r="5.3"/>
<circle cx="371.9" cy="624" r="5.3"/>
<circle cx="379.5" cy="625.9" r="5.3"/>
<circle cx="391.6" cy="643.8" r="5.3"/>
<circle cx="376.8" cy="659.8" r="5.3"/>
<circle cx="419.9" cy="490.5" r="5.3"/>
<circle cx="529.8" cy="632.5" r="5.3"/>
<circle cx="525.9" cy="644.2" r="5.3"/>
<circle cx="519.6" cy="646.1" r="5.3"/>
</g>
<g font-size="30">
<text x="67" y="140" fill="#E51B2E" textLength="42.6" lengthAdjust="spacingAndGlyphs">TK</text>
<text x="31.5" y="320.6" fill="#7E3F98" textLength="98.2" lengthAdjust="spacingAndGlyphs">CMGC</text>
<text x="552" y="128.8" fill="#F8A93E" textLength="60.7" lengthAdjust="spacingAndGlyphs">TKL</text>
<text x="647.6" y="291.4" fill="#149A4E" textLength="61.5" lengthAdjust="spacingAndGlyphs">STE</text>
<text x="595.8" y="375.6" fill="#2EA7E0" textLength="58.8" lengthAdjust="spacingAndGlyphs">CK1</text>
<text x="619.6" y="560" fill="#1C71B8" textLength="67.2" lengthAdjust="spacingAndGlyphs">AGC</text>
<text x="225" y="598" fill="#8C6239" textLength="96.7" lengthAdjust="spacingAndGlyphs">CAMK</text>
</g>

</svg>
</body></html>
